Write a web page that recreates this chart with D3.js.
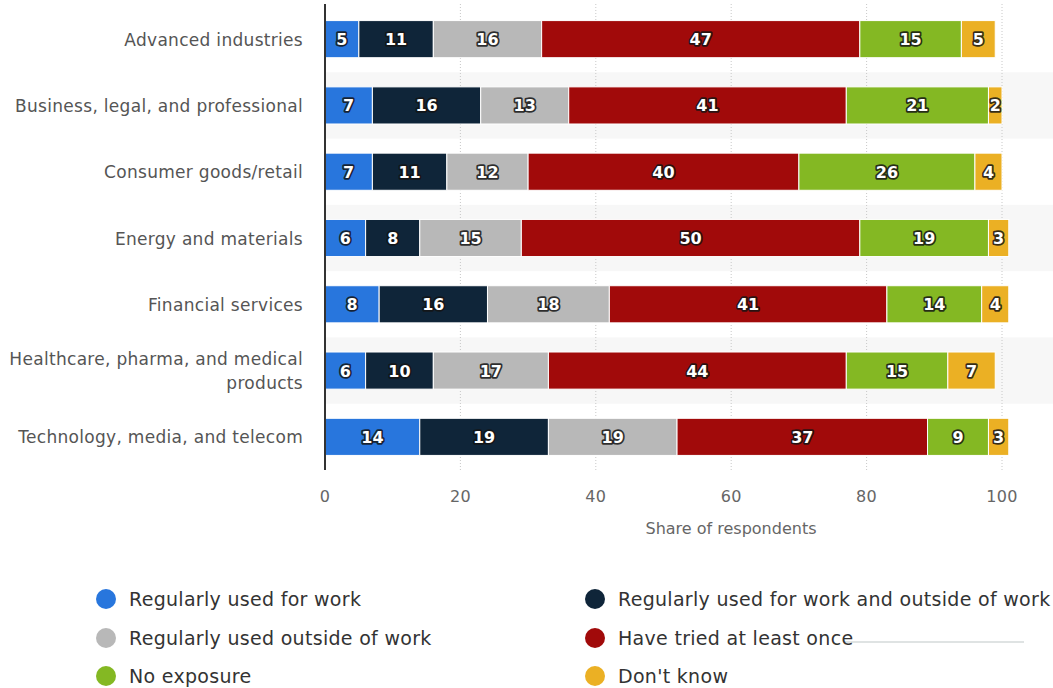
<!DOCTYPE html>
<html>
<head>
<meta charset="utf-8">
<script src="https://cdn.jsdelivr.net/npm/d3@7"></script>
<style>
  body { margin: 0; background: #fff; }
  svg { display: block; font-family: "DejaVu Sans", Verdana, sans-serif; }
</style>
</head>
<body>
<div id="chart"></div>
<script>
var categories = [
    'Advanced industries',
    'Business, legal, and professional',
    'Consumer goods/retail',
    'Energy and materials',
    'Financial services',
    'Healthcare, pharma, and medical products',
    'Technology, media, and telecom'
];
var seriesNames = [
    'Regularly used for work',
    'Regularly used for work and outside of work',
    'Regularly used outside of work',
    'Have tried at least once',
    'No exposure',
    "Don't know"
];
var usedForWork       = [5, 7, 7, 6, 8, 6, 14];
var usedForWorkAndOut = [11, 16, 11, 8, 16, 10, 19];
var usedOutsideWork   = [16, 13, 12, 15, 18, 17, 19];
var triedOnce         = [47, 41, 40, 50, 41, 44, 37];
var noExposure        = [15, 21, 26, 19, 14, 15, 9];
var dontKnow          = [5, 2, 4, 3, 4, 7, 3];
var xTicks = [0, 20, 40, 60, 80, 100];

var colors = ['#2876dd', '#0f2539', '#b8b8b8', '#a10a0a', '#84b823', '#ebb024'];

var width = 1053, height = 688;
var seriesValues = [usedForWork, usedForWorkAndOut, usedOutsideWork, triedOnce, noExposure, dontKnow];

window.onload = function() {
    var svg = d3.select('#chart').append('svg')
        .attr('width', width)
        .attr('height', height);

    var x = d3.scaleLinear().domain([0, 100]).range([325, 1002]);
    var y = d3.scaleBand().domain(categories).range([6, 470])
        .paddingInner(0.44).paddingOuter(0.22);
    var step = y.step();
    var off = (step - y.bandwidth()) / 2;

    // alternating row bands
    svg.selectAll('rect.band')
        .data(categories.filter(function(d, i) { return i % 2 == 1; }))
        .enter().append('rect')
        .attr('class', 'band')
        .attr('x', 325)
        .attr('y', function(d) { return y(d) - off; })
        .attr('width', width - 325)
        .attr('height', step)
        .attr('fill', '#f7f7f7');

    // dotted grid
    svg.selectAll('line.grid')
        .data(xTicks.slice(1))
        .enter().append('line')
        .attr('x1', function(d) { return x(d); })
        .attr('x2', function(d) { return x(d); })
        .attr('y1', 4)
        .attr('y2', 470)
        .attr('stroke', '#c8c8c8')
        .attr('stroke-width', 1)
        .attr('stroke-dasharray', '1,2');

    // stack data
    var rows = categories.map(function(c, i) {
        var o = { cat: c };
        seriesNames.forEach(function(s, j) { o[s] = seriesValues[j][i]; });
        return o;
    });
    var stack = d3.stack().keys(seriesNames)(rows);

    var groups = svg.selectAll('g.series')
        .data(stack)
        .enter().append('g')
        .attr('fill', function(d, i) { return colors[i]; });

    groups.selectAll('rect')
        .data(function(d) { return d; })
        .enter().append('rect')
        .attr('x', function(d) { return x(d[0]); })
        .attr('y', function(d) { return y(d.data.cat); })
        .attr('width', function(d) { return x(d[1]) - x(d[0]); })
        .attr('height', y.bandwidth())
        .attr('stroke', '#fff')
        .attr('stroke-width', 1);

    // value labels
    groups.selectAll('text')
        .data(function(d) { return d; })
        .enter().append('text')
        .attr('x', function(d) { return (x(d[0]) + x(d[1])) / 2; })
        .attr('y', function(d) { return y(d.data.cat) + y.bandwidth() / 2 + 6; })
        .attr('text-anchor', 'middle')
        .attr('font-size', 16)
        .attr('font-weight', 'bold')
        .attr('fill', '#fff')
        .attr('stroke', 'rgba(20,20,20,0.85)')
        .attr('stroke-width', 3.5)
        .attr('stroke-linejoin', 'round')
        .attr('paint-order', 'stroke')
        .text(function(d) { return d[1] - d[0]; });

    // left axis line
    svg.append('line')
        .attr('x1', 325).attr('x2', 325)
        .attr('y1', 4).attr('y2', 470)
        .attr('stroke', '#333')
        .attr('stroke-width', 2);

    // category labels
    svg.selectAll('text.cat')
        .data(categories)
        .enter().append('text')
        .attr('class', 'cat')
        .attr('text-anchor', 'end')
        .attr('font-size', 17)
        .attr('letter-spacing', 0.3)
        .attr('fill', '#555')
        .each(function(d) {
            var cy = y(d) + y.bandwidth() / 2;
            var t = d3.select(this);
            if (d.indexOf('Healthcare') == 0) {
                t.append('tspan').attr('x', 303).attr('y', cy - 6).text('Healthcare, pharma, and medical');
                t.append('tspan').attr('x', 303).attr('y', cy + 18).text('products');
            } else {
                t.append('tspan').attr('x', 303).attr('y', cy + 6.5).text(d);
            }
        });

    // x tick labels
    svg.selectAll('text.tick')
        .data(xTicks)
        .enter().append('text')
        .attr('x', function(d) { return x(d); })
        .attr('y', 502)
        .attr('text-anchor', 'middle')
        .attr('font-size', 16)
        .attr('letter-spacing', 0.3)
        .attr('fill', '#666')
        .text(function(d) { return d; });

    svg.append('text')
        .attr('x', 731)
        .attr('y', 534)
        .attr('text-anchor', 'middle')
        .attr('font-size', 16)
        .attr('fill', '#666')
        .text('Share of respondents');

    // legend
    svg.append('line')
        .attr('x1', 845).attr('x2', 1024)
        .attr('y1', 642).attr('y2', 642)
        .attr('stroke', '#dfe3e3')
        .attr('stroke-width', 2);

    var legendX = [106, 595];
    var legendY = [599, 638, 676];
    var legend = svg.selectAll('g.legend')
        .data(seriesNames)
        .enter().append('g')
        .attr('transform', function(d, i) {
            return 'translate(' + legendX[i % 2] + ',' + legendY[Math.floor(i / 2)] + ')';
        });
    legend.append('circle')
        .attr('r', 10)
        .attr('fill', function(d, i) { return colors[i]; });
    legend.append('text')
        .attr('x', 23)
        .attr('y', 7)
        .attr('font-size', 19)
        .attr('letter-spacing', 0.3)
        .attr('fill', '#333')
        .text(function(d) { return d; });
};
</script>
</body>
</html>
